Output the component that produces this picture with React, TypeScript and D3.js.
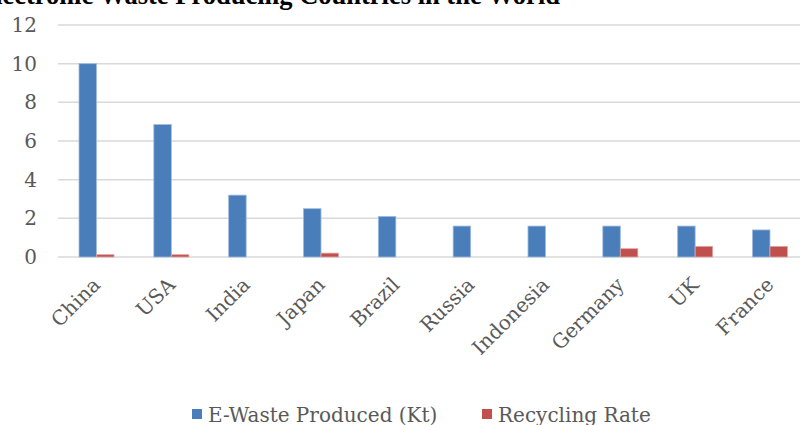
import { useEffect, useRef } from 'react';
import * as d3 from 'd3';

const countries = ['China', 'USA', 'India', 'Japan', 'Brazil', 'Russia', 'Indonesia', 'Germany', 'UK', 'France'];
const eWaste = [10.0, 6.85, 3.2, 2.5, 2.1, 1.6, 1.6, 1.6, 1.6, 1.4];
const recyclingRate = [0.12, 0.12, 0, 0.2, 0, 0, 0, 0.43, 0.55, 0.55];
const seriesNames = ['E-Waste Produced (Kt)', 'Recycling Rate'];
const yTicks = [0, 2, 4, 6, 8, 10, 12];

const W = 800;
const H = 425;

export default function App() {
  const svgRef = useRef<SVGSVGElement>(null);

  useEffect(() => {
    if (!svgRef.current) return;
    document.body.style.margin = '0';

    const svg = d3.select(svgRef.current);
    svg.selectAll('*').remove();

    const colors = {
      blue: '#4a7ebb',
      red: '#c0504d',
      blueEdge: '#9fbbdf',
      redEdge: '#e0a6a4',
      grid: '#d9d9d9',
      text: '#595959'
    };
    const font = '"DejaVu Serif", serif';

    const y = d3.scaleLinear().domain([0, 12]).range([257, 25]);

    const x0 = d3.scaleBand<string>()
      .domain(countries)
      .range([59.1, 807.4])
      .paddingInner(0.532)
      .paddingOuter(0.266);

    const x1 = d3.scaleBand<string>()
      .domain(seriesNames)
      .range([0, x0.bandwidth()]);

    const seriesColor = d3.scaleOrdinal<string, string>()
      .domain(seriesNames)
      .range([colors.blue, colors.red]);
    const edgeColor = d3.scaleOrdinal<string, string>()
      .domain(seriesNames)
      .range([colors.blueEdge, colors.redEdge]);

    // Title (partly cut off at the top, as in the source image)
    svg.append('text')
      .attr('x', 560)
      .attr('y', 4)
      .attr('text-anchor', 'end')
      .style('font-family', '"Liberation Serif", "Times New Roman", serif')
      .style('font-weight', 'bold')
      .style('font-size', '26.5px')
      .style('fill', '#000')
      .text('Electronic Waste Producing Countries in the World');

    // Gridlines
    svg.append('g')
      .selectAll('line')
      .data(yTicks)
      .enter().append('line')
      .attr('x1', 58)
      .attr('x2', W)
      .attr('y1', d => y(d))
      .attr('y2', d => y(d))
      .attr('stroke', colors.grid)
      .attr('stroke-width', 1.5);

    // Y tick labels
    svg.append('g')
      .selectAll('text')
      .data(yTicks)
      .enter().append('text')
      .attr('x', 37)
      .attr('y', d => y(d))
      .attr('dy', '0.35em')
      .attr('text-anchor', 'end')
      .style('font-family', font)
      .style('font-size', '20px')
      .style('fill', colors.text)
      .text(d => d);

    // Bars
    const rows = countries.map((c, i) => ({
      country: c,
      values: [
        { key: seriesNames[0], value: eWaste[i] },
        { key: seriesNames[1], value: recyclingRate[i] }
      ]
    }));

    const groups = svg.append('g')
      .selectAll('g')
      .data(rows)
      .enter().append('g')
      .attr('transform', d => `translate(${x0(d.country)},0)`);

    groups.selectAll('rect')
      .data(d => d.values.filter(v => v.value > 0))
      .enter().append('rect')
      .attr('x', d => x1(d.key) as number)
      .attr('width', x1.bandwidth())
      .attr('y', d => y(d.value))
      .attr('height', d => y(0) - y(d.value))
      .attr('fill', d => seriesColor(d.key))
      .attr('stroke', d => edgeColor(d.key))
      .attr('stroke-width', 0.8);

    // X labels, rotated
    svg.append('g')
      .selectAll('text')
      .data(countries)
      .enter().append('text')
      .attr('text-anchor', 'end')
      .attr('transform', d => {
        const cx = (x0(d) as number) + x0.bandwidth() / 2 + 5;
        return `translate(${cx},286) rotate(-45)`;
      })
      .style('font-family', font)
      .style('font-size', '20px')
      .style('fill', colors.text)
      .text(d => d);

    // Legend
    const legend = svg.append('g');
    const legendItems = [
      { name: seriesNames[0], x: 192 },
      { name: seriesNames[1], x: 482 }
    ];
    legendItems.forEach(item => {
      legend.append('rect')
        .attr('x', item.x)
        .attr('y', 409)
        .attr('width', 10)
        .attr('height', 10)
        .attr('fill', seriesColor(item.name));
      legend.append('text')
        .attr('x', item.x + 16)
        .attr('y', 422)
        .style('font-family', font)
        .style('font-size', '20px')
        .style('fill', colors.text)
        .text(item.name);
    });
  }, []);

  return (
    <svg
      ref={svgRef}
      width={W}
      height={H}
      style={{ position: 'absolute', left: 0, top: 0, background: '#fff' }}
    />
  );
}
